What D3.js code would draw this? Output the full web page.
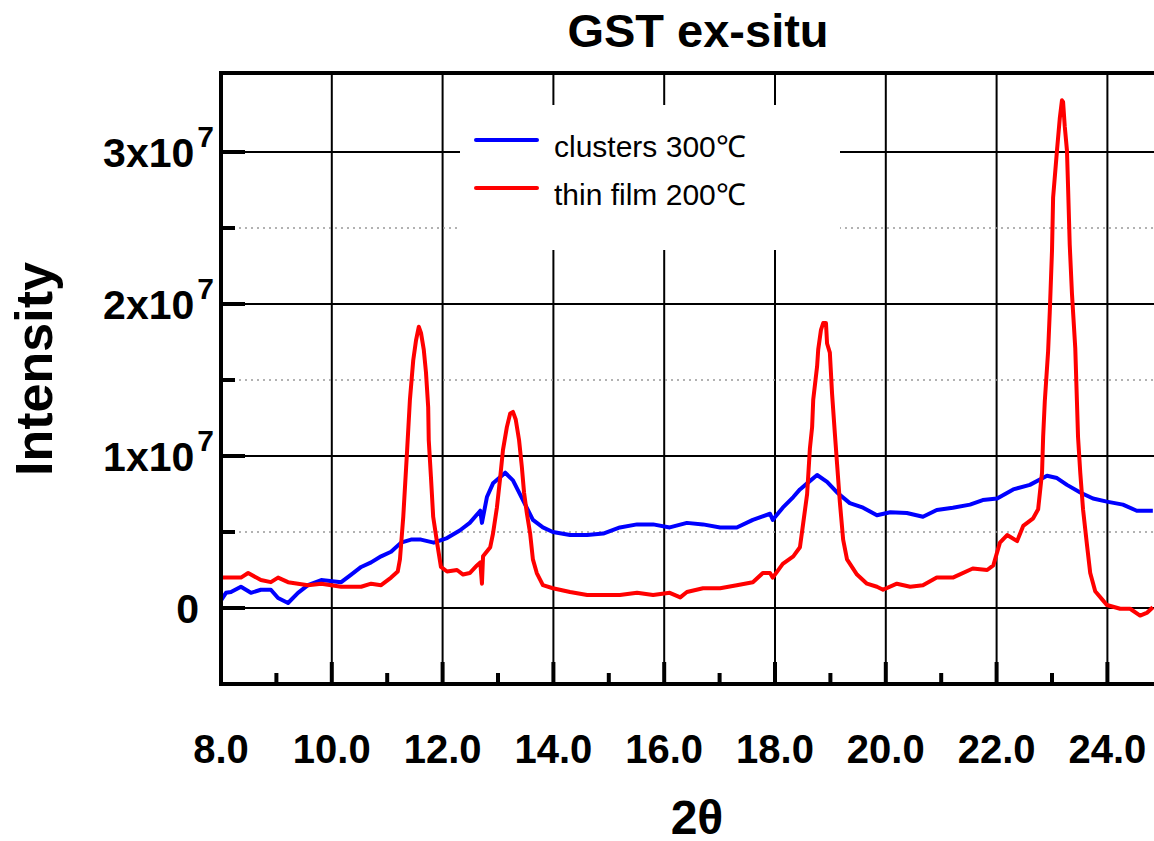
<!DOCTYPE html>
<html>
<head>
<meta charset="utf-8">
<script src="https://cdn.jsdelivr.net/npm/d3@7/dist/d3.min.js"></script>
<style>
  html, body { margin: 0; padding: 0; background: #fff; }
  svg text { font-family: "Liberation Sans", Arial, sans-serif; }
</style>
</head>
<body>
<svg id="chart" width="1154" height="841"></svg>
<script>
// 2theta (deg) and intensity (x10^6)
const clustersTheta = [8.00, 8.09, 8.18, 8.36, 8.54, 8.72, 8.90, 9.03, 9.21, 9.39, 9.57, 9.81, 10.17, 10.35, 10.53, 10.71, 10.89, 11.07, 11.25, 11.43, 11.61, 11.84, 12.08, 12.31, 12.49, 12.68, 12.71, 12.80, 12.91, 13.13, 13.27, 13.45, 13.63, 13.81, 13.99, 14.30, 14.61, 14.90, 15.20, 15.51, 15.80, 16.10, 16.41, 16.70, 17.01, 17.31, 17.60, 17.91, 17.96, 18.14, 18.33, 18.45, 18.58, 18.76, 18.94, 19.12, 19.35, 19.59, 19.84, 20.08, 20.38, 20.67, 20.92, 21.21, 21.52, 21.75, 22.01, 22.30, 22.60, 22.91, 23.09, 23.27, 23.51, 23.74, 23.99, 24.28, 24.53, 24.82];
const clustersI = [0.5, 1.0, 1.05, 1.4, 1.0, 1.2, 1.2, 0.66, 0.33, 1.0, 1.5, 1.84, 1.7, 2.2, 2.7, 3.0, 3.4, 3.7, 4.3, 4.5, 4.5, 4.3, 4.6, 5.1, 5.6, 6.4, 5.6, 7.3, 8.2, 8.9, 8.4, 7.1, 5.8, 5.3, 5.0, 4.8, 4.8, 4.9, 5.3, 5.5, 5.5, 5.3, 5.6, 5.5, 5.3, 5.3, 5.8, 6.2, 5.8, 6.6, 7.3, 7.8, 8.2, 8.75, 8.3, 7.6, 6.9, 6.6, 6.1, 6.3, 6.25, 6.0, 6.45, 6.6, 6.8, 7.1, 7.2, 7.8, 8.1, 8.7, 8.55, 8.1, 7.6, 7.2, 7.0, 6.8, 6.4, 6.4];

const filmTheta = [8.00, 8.18, 8.36, 8.49, 8.72, 8.90, 9.03, 9.21, 9.57, 9.81, 10.17, 10.53, 10.71, 10.89, 11.07, 11.19, 11.23, 11.29, 11.36, 11.41, 11.47, 11.52, 11.57, 11.61, 11.66, 11.70, 11.74, 11.75, 11.79, 11.83, 11.90, 11.97, 12.08, 12.26, 12.37, 12.49, 12.62, 12.68, 12.71, 12.73, 12.86, 12.91, 12.98, 13.04, 13.09, 13.16, 13.22, 13.27, 13.32, 13.38, 13.43, 13.47, 13.52, 13.58, 13.63, 13.70, 13.81, 13.99, 14.30, 14.61, 14.90, 15.20, 15.51, 15.80, 16.10, 16.29, 16.41, 16.70, 17.01, 17.31, 17.60, 17.78, 17.91, 17.96, 18.14, 18.33, 18.45, 18.51, 18.58, 18.63, 18.67, 18.69, 18.76, 18.78, 18.83, 18.87, 18.92, 18.94, 18.99, 19.03, 19.08, 19.12, 19.17, 19.23, 19.30, 19.48, 19.66, 19.84, 19.95, 20.20, 20.44, 20.67, 20.92, 21.21, 21.57, 21.83, 21.94, 22.06, 22.19, 22.37, 22.48, 22.66, 22.75, 22.82, 22.84, 22.87, 22.93, 22.96, 23.00, 23.02, 23.09, 23.14, 23.18, 23.20, 23.23, 23.27, 23.29, 23.32, 23.36, 23.42, 23.45, 23.47, 23.51, 23.56, 23.63, 23.69, 23.78, 23.92, 23.99, 24.23, 24.41, 24.59, 24.72, 24.82];
const filmI = [2.0, 2.0, 2.0, 2.3, 1.84, 1.7, 2.0, 1.7, 1.5, 1.6, 1.4, 1.4, 1.6, 1.5, 2.0, 2.4, 3.2, 6.0, 10.4, 13.7, 16.3, 17.6, 18.5, 18.1, 17.0, 15.5, 13.2, 11.05, 8.6, 6.0, 4.3, 2.7, 2.4, 2.5, 2.2, 2.3, 2.8, 3.0, 1.6, 3.4, 4.0, 4.9, 6.6, 8.6, 10.4, 11.9, 12.8, 12.9, 12.4, 11.05, 9.3, 7.6, 6.25, 4.9, 3.2, 2.3, 1.5, 1.3, 1.05, 0.86, 0.86, 0.86, 1.0, 0.86, 1.0, 0.7, 1.05, 1.3, 1.3, 1.5, 1.7, 2.3, 2.3, 2.0, 2.9, 3.4, 4.0, 5.6, 7.5, 10.5, 11.9, 13.7, 15.9, 17.0, 18.3, 18.75, 18.75, 17.4, 16.8, 14.1, 11.5, 9.5, 7.0, 4.5, 3.2, 2.2, 1.6, 1.4, 1.2, 1.6, 1.4, 1.5, 2.0, 2.0, 2.6, 2.5, 2.8, 4.3, 4.8, 4.4, 5.4, 5.9, 6.5, 8.9, 11.25, 13.6, 16.9, 19.5, 23.5, 27.0, 30.1, 32.2, 33.4, 33.3, 31.7, 30.1, 27.7, 23.9, 20.7, 17.1, 13.6, 11.25, 8.9, 6.5, 4.2, 2.3, 1.1, 0.5, 0.2, -0.05, -0.05, -0.5, -0.3, 0.05];

const seriesNames = ['clusters 300\u2103', 'thin film 200\u2103'];
const seriesColors = ['#0000ff', '#ff0000'];

const xMajor = [8, 10, 12, 14, 16, 18, 20, 22, 24];
const xMinor = [9, 11, 13, 15, 17, 19, 21, 23];
const yMajor = [0, 10, 20, 30];          // x10^6
const yMinor = [5, 15, 25];
const yLabelBase = ['0', '1x10', '2x10', '3x10'];

const svg = d3.select('#chart');
const plotLeft = 221, plotTop = 73, plotBottom = 684, plotRight = 1154;

const x = d3.scaleLinear().domain([8, 25]).range([plotLeft, plotLeft + 17 * 55.4]);
const y = d3.scaleLinear().domain([-5, 35]).range([plotBottom, plotBottom - 40 * 15.2]);

// grid
const grid = svg.append('g');
grid.selectAll('.vgrid').data(xMajor.slice(1)).enter().append('line')
  .attr('x1', d => x(d)).attr('x2', d => x(d))
  .attr('y1', plotTop).attr('y2', plotBottom)
  .attr('stroke', '#000').attr('stroke-width', 2);
grid.selectAll('.hgrid').data(yMajor).enter().append('line')
  .attr('x1', plotLeft).attr('x2', plotRight)
  .attr('y1', d => y(d)).attr('y2', d => y(d))
  .attr('stroke', '#000').attr('stroke-width', 2);
grid.selectAll('.hminor').data(yMinor).enter().append('line')
  .attr('x1', plotLeft).attr('x2', plotRight)
  .attr('y1', d => y(d)).attr('y2', d => y(d))
  .attr('stroke', '#999').attr('stroke-width', 1.5)
  .attr('stroke-dasharray', '2,4');

// legend box hides the grid behind it
svg.append('rect')
  .attr('x', 460).attr('y', 105).attr('width', 380).attr('height', 145)
  .attr('fill', '#fff');

// curves
const line = d3.line().x(d => x(d[0])).y(d => y(d[1]));
const series = [
  d3.zip(clustersTheta, clustersI),
  d3.zip(filmTheta, filmI)
];
svg.selectAll('.curve').data(series).enter().append('path')
  .attr('d', line)
  .attr('fill', 'none')
  .attr('stroke', (d, i) => seriesColors[i])
  .attr('stroke-width', 4)
  .attr('stroke-linejoin', 'round');

// ticks
const ticks = svg.append('g').attr('stroke', '#000').attr('stroke-width', 4);
ticks.selectAll('.ymaj').data(yMajor).enter().append('line')
  .attr('x1', plotLeft).attr('x2', plotLeft + 24)
  .attr('y1', d => y(d)).attr('y2', d => y(d));
ticks.selectAll('.ymin').data(yMinor).enter().append('line')
  .attr('x1', plotLeft).attr('x2', plotLeft + 14)
  .attr('y1', d => y(d)).attr('y2', d => y(d));
ticks.selectAll('.xmaj').data(xMajor).enter().append('line')
  .attr('x1', d => x(d)).attr('x2', d => x(d))
  .attr('y1', plotBottom).attr('y2', plotBottom - 22);
ticks.selectAll('.xmin').data(xMinor).enter().append('line')
  .attr('x1', d => x(d)).attr('x2', d => x(d))
  .attr('y1', plotBottom).attr('y2', plotBottom - 11);

// frame
const frame = svg.append('g').attr('stroke', '#000').attr('stroke-width', 4);
frame.append('line').attr('x1', plotLeft).attr('x2', plotLeft).attr('y1', plotTop - 2).attr('y2', plotBottom + 2);
frame.append('line').attr('x1', plotLeft - 2).attr('x2', plotRight).attr('y1', plotTop).attr('y2', plotTop);
frame.append('line').attr('x1', plotLeft - 2).attr('x2', plotRight).attr('y1', plotBottom).attr('y2', plotBottom);

// tick labels
svg.selectAll('.xlab').data(xMajor).enter().append('text')
  .attr('x', d => x(d)).attr('y', 763)
  .attr('text-anchor', 'middle')
  .attr('font-size', 40).attr('font-weight', 'bold')
  .text(d => d.toFixed(1));

const ylab = svg.selectAll('.ylab').data(yMajor).enter().append('text')
  .attr('x', (d, i) => i === 0 ? 199 : 214)
  .attr('y', d => y(d) + 15)
  .attr('text-anchor', 'end')
  .attr('font-size', 41).attr('font-weight', 'bold');
ylab.append('tspan').text((d, i) => yLabelBase[i]);
ylab.filter((d, i) => i > 0).append('tspan')
  .attr('dx', 3).attr('dy', -20).attr('font-size', 30).text('7');

// titles
svg.append('text').attr('x', 698).attr('y', 47)
  .attr('text-anchor', 'middle').attr('font-size', 47).attr('font-weight', 'bold')
  .text('GST ex-situ');
svg.append('text')
  .attr('transform', 'translate(52,369) rotate(-90)')
  .attr('text-anchor', 'middle').attr('font-size', 52).attr('font-weight', 'bold')
  .text('Intensity');
svg.append('text').attr('x', 697).attr('y', 834)
  .attr('text-anchor', 'middle').attr('font-size', 48).attr('font-weight', 'bold')
  .text('2\u03b8');

// legend
const legend = svg.append('g');
const legendY = [140, 188];
legend.selectAll('.lline').data(seriesNames).enter().append('line')
  .attr('x1', 476).attr('x2', 537)
  .attr('y1', (d, i) => legendY[i]).attr('y2', (d, i) => legendY[i])
  .attr('stroke', (d, i) => seriesColors[i]).attr('stroke-width', 4)
  .attr('stroke-linecap', 'round');
legend.selectAll('.ltext').data(seriesNames).enter().append('text')
  .attr('x', 554).attr('y', (d, i) => legendY[i] + 17)
  .attr('font-size', 30)
  .text(d => d);
</script>
</body>
</html>
